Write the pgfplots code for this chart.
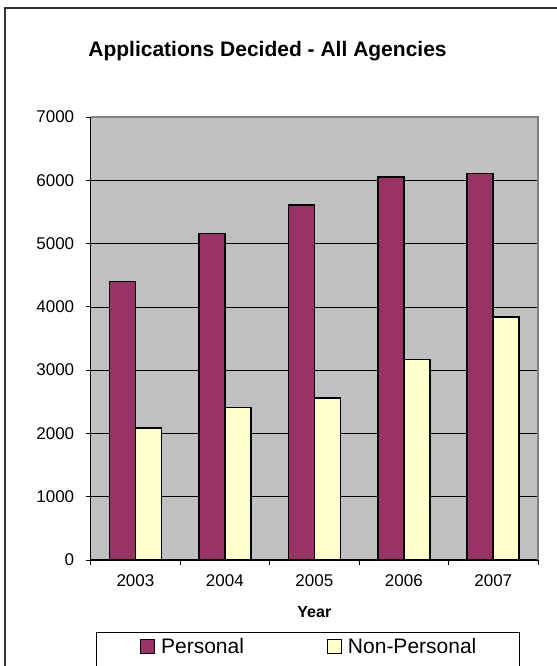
\documentclass[border=0pt]{standalone}
\usepackage{pgfplots}
\pgfplotsset{compat=1.18}
\usepackage{fontspec}
\setmainfont{Liberation Sans}
\definecolor{plum}{HTML}{993366}
\definecolor{ivory}{HTML}{FFFFCC}
\definecolor{plotbg}{HTML}{C0C0C0}
\begin{document}
\begin{tikzpicture}[x=1bp,y=1bp]
\useasboundingbox (0,0) rectangle (557,666);
\begin{scope}
\clip (0,0) rectangle (557,666);
\draw[black!80, line width=1.6bp] (5,658) rectangle (620,-50);
\draw[black, line width=0.9bp] (96,33.3) rectangle (519,-30);
\end{scope}
\node[font=\fontsize{21bp}{25bp}\selectfont\bfseries, anchor=base] at (267.5,609.5) {Applications Decided - All Agencies};
\begin{axis}[
  at={(90.7bp,106bp)}, anchor=south west,
  width=447.3bp, height=443bp, scale only axis,
  ybar=0pt, bar width=26bp,
  xmin=-0.5, xmax=4.5, ymin=0, ymax=7000,
  xtick={0,1,2,3,4}, xticklabels={2003,2004,2005,2006,2007},
  major x tick style={draw=none},
  minor xtick={-0.5,0.5,1.5,2.5,3.5,4.5},
  minor x tick style={black, line width=0.8bp},
  ytick={0,1000,...,7000},
  tick align=outside, major tick length=5bp, minor tick length=5bp,
  y tick style={black, line width=0.8bp},
  axis lines*=left,
  axis line style={black, line width=1bp},
  ymajorgrids, major grid style={black, line width=0.7bp},
  axis background/.style={fill=plotbg},
  /pgf/number format/assume math mode=true,
  /pgf/number format/set thousands separator={},
  yticklabel style={font=\fontsize{17bp}{20bp}\selectfont, xshift=-8bp},
  xticklabel style={font=\fontsize{17bp}{20bp}\selectfont, yshift=-6bp},
  xlabel={Year}, xlabel style={font=\fontsize{16bp}{19bp}\selectfont\bfseries, yshift=-13bp},
  legend columns=2,
  legend style={at={(0.110,-0.196)}, anchor=west, draw=none, fill=none, inner sep=0pt,
    font=\fontsize{21bp}{25bp}\selectfont,
    nodes={inner xsep=4bp},
    /tikz/every even column/.append style={column sep=79bp}},
  legend image code/.code={\draw[#1,draw=black,line width=1bp] (0bp,-7bp) rectangle (14bp,7bp);},
  after end axis/.code={\draw[gray, line width=1.2bp] (rel axis cs:0,1) -- (rel axis cs:1,1) -- (rel axis cs:1,0);},
]
\addplot[fill=plum, draw=black, line width=1.6bp] coordinates {(0,4400) (1,5160) (2,5610) (3,6055) (4,6110)};
\addplot[fill=ivory, draw=black, line width=1.6bp] coordinates {(0,2090) (1,2410) (2,2560) (3,3170) (4,3835)};
\legend{\hspace{2bp}Personal, \hspace{2bp}Non-Personal}
\end{axis}
\end{tikzpicture}
\end{document}
